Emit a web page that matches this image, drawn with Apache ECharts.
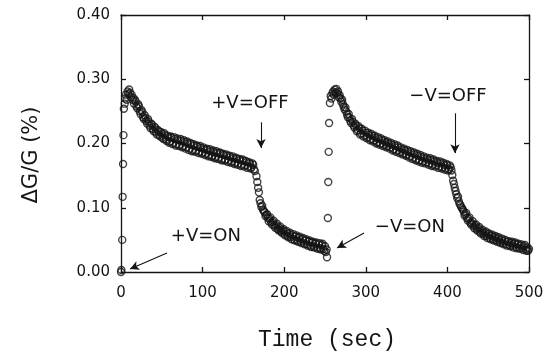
<!DOCTYPE html>
<html><head><meta charset="utf-8">
<script src="https://cdn.jsdelivr.net/npm/echarts@6.0.0/dist/echarts.min.js"></script>
<style>html,body{margin:0;padding:0;background:#fff}#c{width:549px;height:353px}</style>
</head><body><div id="c"></div>
<script>
// tick labels
const xTicks = [0, 100, 200, 300, 400, 500];
const yTicks = [0.00, 0.10, 0.20, 0.30, 0.40];

// +V cycle: [time (sec), dG/G (%)]
const plusCycle = [[0,0.000],[0.5,0.003],[1.5,0.050],[2,0.117],[2.5,0.168],[3,0.213],[3.5,0.254],[4.5,0.262],[5,0.270],[6,0.276],[7,0.268],[8,0.281],[9,0.277],[10,0.284],[11,0.279],[12,0.272],[13,0.276],[14,0.268],[15,0.271],[16,0.262],[17,0.268],[18,0.265],[19,0.258],[20,0.255],[21,0.261],[22,0.258],[23,0.250],[24,0.246],[25,0.252],[26,0.249],[27,0.241],[28,0.238],[29,0.244],[30,0.240],[31,0.235],[32,0.231],[33,0.238],[34,0.234],[35,0.228],[36,0.224],[37,0.231],[38,0.229],[39,0.222],[40,0.219],[41,0.226],[42,0.224],[43,0.217],[44,0.214],[45,0.221],[46,0.219],[47,0.213],[48,0.211],[49,0.218],[50,0.215],[51,0.209],[52,0.207],[53,0.216],[54,0.213],[55,0.206],[56,0.204],[57,0.212],[58,0.210],[59,0.201],[60,0.203],[61,0.211],[62,0.209],[63,0.199],[64,0.201],[65,0.210],[66,0.207],[67,0.197],[68,0.199],[69,0.208],[70,0.205],[71,0.196],[72,0.198],[73,0.207],[74,0.204],[75,0.194],[76,0.196],[77,0.205],[78,0.202],[79,0.192],[80,0.194],[81,0.203],[82,0.200],[83,0.190],[84,0.192],[85,0.201],[86,0.199],[87,0.188],[88,0.190],[89,0.199],[90,0.197],[91,0.187],[92,0.189],[93,0.197],[94,0.195],[95,0.185],[96,0.187],[97,0.196],[98,0.193],[99,0.184],[100,0.186],[101,0.194],[102,0.191],[103,0.182],[104,0.184],[105,0.192],[106,0.190],[107,0.180],[108,0.182],[109,0.191],[110,0.188],[111,0.179],[112,0.181],[113,0.189],[114,0.186],[115,0.177],[116,0.179],[117,0.188],[118,0.185],[119,0.176],[120,0.178],[121,0.186],[122,0.184],[123,0.174],[124,0.176],[125,0.184],[126,0.182],[127,0.173],[128,0.175],[129,0.183],[130,0.181],[131,0.171],[132,0.173],[133,0.181],[134,0.179],[135,0.170],[136,0.172],[137,0.180],[138,0.177],[139,0.168],[140,0.170],[141,0.178],[142,0.176],[143,0.167],[144,0.169],[145,0.176],[146,0.174],[147,0.165],[148,0.167],[149,0.175],[150,0.173],[151,0.164],[152,0.166],[153,0.173],[154,0.171],[155,0.162],[156,0.164],[157,0.171],[158,0.169],[159,0.161],[160,0.163],[161,0.169],[162,0.167],[163,0.160],[164,0.157],[166,0.149],[167,0.140],[168,0.131],[169,0.124],[170,0.112],[171,0.107],[172,0.101],[173,0.103],[174,0.097],[175,0.095],[176,0.093],[177,0.087],[178,0.089],[179,0.090],[180,0.084],[181,0.079],[182,0.083],[183,0.085],[184,0.077],[185,0.074],[186,0.078],[187,0.080],[188,0.072],[189,0.069],[190,0.073],[191,0.075],[192,0.067],[193,0.065],[194,0.069],[195,0.071],[196,0.063],[197,0.061],[198,0.065],[199,0.067],[200,0.059],[201,0.057],[202,0.062],[203,0.064],[204,0.056],[205,0.054],[206,0.059],[207,0.061],[208,0.054],[209,0.051],[210,0.057],[211,0.059],[212,0.051],[213,0.049],[214,0.055],[215,0.057],[216,0.049],[217,0.047],[218,0.053],[219,0.055],[220,0.047],[221,0.045],[222,0.051],[223,0.053],[224,0.045],[225,0.043],[226,0.049],[227,0.051],[228,0.043],[229,0.041],[230,0.047],[231,0.049],[232,0.041],[233,0.039],[234,0.046],[235,0.047],[236,0.040],[237,0.038],[238,0.044],[239,0.046],[240,0.038],[241,0.036],[242,0.043],[243,0.045],[244,0.037],[245,0.035],[246,0.042],[247,0.044],[248,0.036],[249,0.033],[250,0.040],[251,0.031],[252,0.035],[252.5,0.023]];

// -V cycle: [time (sec), dG/G (%)]
const minusCycle = [[253.5,0.084],[254,0.140],[254.5,0.187],[255,0.232],[256,0.263],[257,0.274],[258,0.270],[259,0.278],[260,0.281],[261,0.276],[262,0.284],[263,0.279],[264,0.285],[265,0.278],[266,0.281],[267,0.272],[268,0.275],[269,0.270],[270,0.265],[271,0.268],[272,0.261],[273,0.257],[274,0.253],[275,0.256],[276,0.250],[277,0.245],[278,0.241],[279,0.246],[280,0.240],[281,0.235],[282,0.232],[283,0.238],[284,0.234],[285,0.228],[286,0.225],[287,0.231],[288,0.228],[289,0.219],[290,0.221],[291,0.227],[292,0.224],[293,0.214],[294,0.216],[295,0.223],[296,0.220],[297,0.211],[298,0.213],[299,0.220],[300,0.217],[301,0.208],[302,0.210],[303,0.217],[304,0.214],[305,0.205],[306,0.207],[307,0.215],[308,0.212],[309,0.203],[310,0.205],[311,0.212],[312,0.209],[313,0.200],[314,0.202],[315,0.210],[316,0.207],[317,0.198],[318,0.200],[319,0.208],[320,0.205],[321,0.196],[322,0.198],[323,0.205],[324,0.202],[325,0.194],[326,0.196],[327,0.203],[328,0.200],[329,0.192],[330,0.194],[331,0.201],[332,0.198],[333,0.189],[334,0.191],[335,0.199],[336,0.196],[337,0.187],[338,0.189],[339,0.197],[340,0.194],[341,0.185],[342,0.187],[343,0.194],[344,0.191],[345,0.183],[346,0.185],[347,0.192],[348,0.189],[349,0.181],[350,0.183],[351,0.190],[352,0.187],[353,0.178],[354,0.180],[355,0.188],[356,0.185],[357,0.176],[358,0.178],[359,0.186],[360,0.183],[361,0.174],[362,0.176],[363,0.184],[364,0.181],[365,0.172],[366,0.174],[367,0.182],[368,0.179],[369,0.170],[370,0.172],[371,0.180],[372,0.177],[373,0.169],[374,0.171],[375,0.178],[376,0.175],[377,0.167],[378,0.169],[379,0.177],[380,0.174],[381,0.165],[382,0.167],[383,0.175],[384,0.172],[385,0.164],[386,0.166],[387,0.173],[388,0.170],[389,0.162],[390,0.164],[391,0.172],[392,0.169],[393,0.161],[394,0.163],[395,0.170],[396,0.167],[397,0.159],[398,0.161],[399,0.168],[400,0.166],[401,0.158],[402,0.160],[403,0.166],[404,0.163],[405,0.158],[406,0.151],[407,0.142],[408,0.137],[409,0.131],[410,0.126],[411,0.121],[412,0.115],[413,0.117],[414,0.110],[415,0.106],[416,0.104],[417,0.101],[418,0.099],[419,0.097],[420,0.094],[421,0.088],[422,0.090],[423,0.092],[424,0.084],[425,0.080],[426,0.083],[427,0.085],[428,0.077],[429,0.074],[430,0.076],[431,0.079],[432,0.071],[433,0.068],[434,0.072],[435,0.074],[436,0.066],[437,0.064],[438,0.068],[439,0.070],[440,0.062],[441,0.060],[442,0.064],[443,0.066],[444,0.059],[445,0.056],[446,0.061],[447,0.063],[448,0.056],[449,0.053],[450,0.059],[451,0.060],[452,0.053],[453,0.051],[454,0.056],[455,0.058],[456,0.051],[457,0.049],[458,0.054],[459,0.056],[460,0.049],[461,0.047],[462,0.052],[463,0.054],[464,0.047],[465,0.045],[466,0.050],[467,0.052],[468,0.045],[469,0.043],[470,0.048],[471,0.050],[472,0.043],[473,0.041],[474,0.047],[475,0.048],[476,0.042],[477,0.040],[478,0.045],[479,0.047],[480,0.041],[481,0.038],[482,0.044],[483,0.046],[484,0.039],[485,0.037],[486,0.043],[487,0.044],[488,0.038],[489,0.036],[490,0.041],[491,0.043],[492,0.037],[493,0.034],[494,0.040],[495,0.042],[496,0.035],[497,0.033],[498,0.038],[499,0.033],[500,0.036]];

// annotation texts and anchor points (data coords)
const annoLabels = ['+V=OFF', '\u2212V=OFF', '+V=ON', '\u2212V=ON'];
const annoAt = [[158, 0.263], [400.7, 0.274], [104, 0.056], [354, 0.070]];
const arrowFrom = [[171.6, 0.233], [409.3, 0.247], [56.4, 0.0296], [297.8, 0.0607]];
const arrowTo = [[171.6, 0.193], [409.3, 0.185], [11, 0.0047], [264.7, 0.0374]];

const INK = '#141414';
const labelFont = 'DejaVu Sans';
const lineStyle = { color: INK, width: 1.3 };

function xAx(pos, showLabel) {
  return {
    type: 'value', min: 0, max: 500, interval: 100, position: pos,
    axisLine: { show: true, onZero: false, lineStyle },
    axisTick: { show: true, inside: true, length: 5, lineStyle },
    axisLabel: { show: showLabel, margin: 14, color: INK, fontFamily: labelFont, fontSize: 15,
      formatter: v => xTicks.includes(v) ? String(v) : '' },
    splitLine: { show: false }
  };
}
function yAx(pos, showLabel) {
  return {
    type: 'value', min: 0, max: 0.4, interval: 0.1, position: pos,
    axisLine: { show: true, onZero: false, lineStyle },
    axisTick: { show: true, inside: true, length: 5, lineStyle },
    axisLabel: { show: showLabel, margin: 11, color: INK, fontFamily: labelFont, fontSize: 15,
      formatter: v => { const t = yTicks.find(k => Math.abs(k - v) < 1e-9); return t === undefined ? '' : t.toFixed(2); } },
    splitLine: { show: false }
  };
}

const markerStyle = { color: 'rgba(0,0,0,0)', borderColor: INK, borderWidth: 1.4 };

const chart = echarts.init(document.getElementById('c'), null, { renderer: 'canvas' });
chart.setOption({
  animation: false,
  backgroundColor: '#fff',
  grid: { left: 121, right: 20, top: 15, bottom: 81, containLabel: false },
  xAxis: [xAx('bottom', true), xAx('top', false)],
  yAxis: [yAx('left', true), yAx('right', false)],
  series: [
    { type: 'scatter', name: '+V', data: plusCycle, symbol: 'circle', symbolSize: 7,
      itemStyle: markerStyle, emphasis: { disabled: true }, silent: true },
    { type: 'scatter', name: '-V', data: minusCycle, symbol: 'circle', symbolSize: 7,
      itemStyle: markerStyle, emphasis: { disabled: true }, silent: true,
      markLine: {
        silent: true, animation: false, symbol: ['none', 'arrow'], symbolSize: [7, 9],
        lineStyle: { color: INK, width: 1.1, type: 'solid' }, label: { show: false },
        emphasis: { disabled: true },
        data: arrowFrom.map((f, i) => [{ coord: f }, { coord: arrowTo[i] }])
      },
      markPoint: {
        silent: true, animation: false, symbol: 'circle', symbolSize: 1,
        itemStyle: { color: 'rgba(0,0,0,0)' },
        label: { show: true, position: 'inside', color: INK, fontFamily: labelFont, fontSize: 18,
          formatter: p => p.name },
        data: annoLabels.map((n, i) => ({ name: n, coord: annoAt[i] }))
      }
    }
  ],
  graphic: [
    { type: 'text', x: 327, y: 340, style: { text: 'Time (sec)', font: '23px "Liberation Mono"', fill: INK, align: 'center', verticalAlign: 'middle' } },
    { type: 'text', x: 32, y: 155, rotation: Math.PI / 2, style: { text: '\u0394G/G (%)', font: '21px "DejaVu Sans"', fill: INK, align: 'center', verticalAlign: 'middle' } }
  ]
});
</script>
</body></html>
